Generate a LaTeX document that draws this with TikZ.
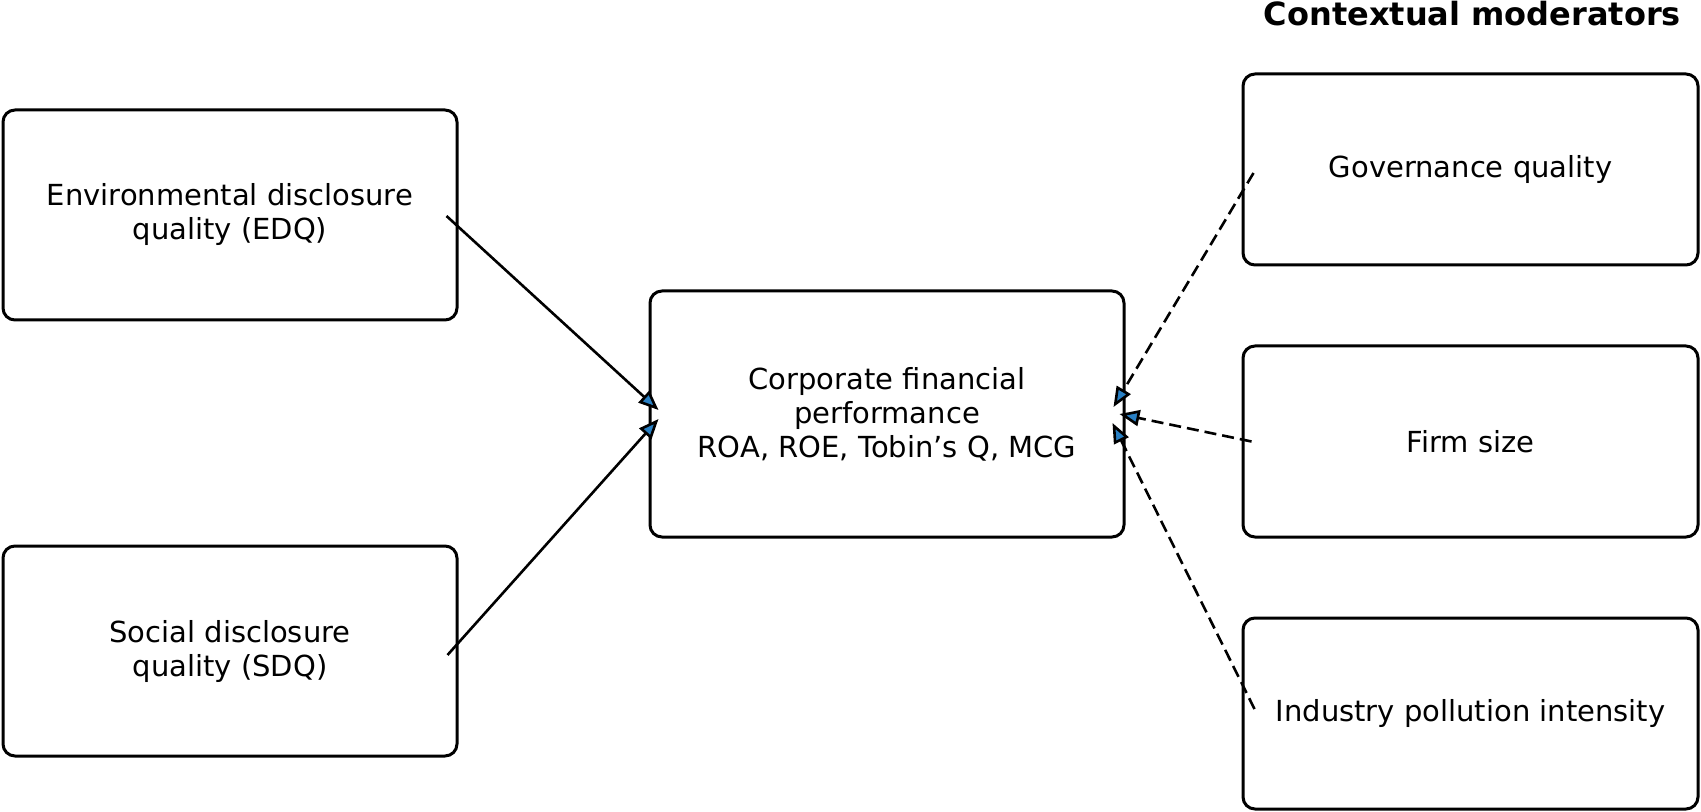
\documentclass[tikz,border=0pt]{standalone}
\usepackage{fontspec}
\setmainfont{DejaVu Sans}
\usetikzlibrary{arrows.meta,calc}
\definecolor{tipblue}{RGB}{41,128,196}
\tikzset{
  box/.style={draw, line width=1.5pt, rounded corners=6pt, align=center,
    font=\fontsize{14.5}{17}\selectfont},
  link/.style={line width=1.3pt, -{Triangle[length=10pt,width=8pt,fill=tipblue]}},
  modlink/.style={link, dash pattern=on 6pt off 3pt}
}

\begin{document}
\begin{tikzpicture}[x=0.5pt,y=-0.5pt]
  \useasboundingbox (0,0) rectangle (1701,812);
  % disclosure quality
  \node[box, minimum width=227pt, minimum height=105pt] (edq) at (230,215) {Environmental disclosure\\quality (EDQ)};
  \node[box, minimum width=227pt, minimum height=105pt] (sdq) at (230,651) {Social disclosure\\quality (SDQ)};
  % outcome
  \node[box, minimum width=237pt, minimum height=123pt] (cfp) at (887,414) {Corporate financial\\performance\\ROA, ROE, Tobin’s Q, MCG};
  % moderators
  \node[font=\fontsize{16}{19}\selectfont\bfseries, anchor=east] (title) at (1688,14) {Contextual moderators};
  \node[box, minimum width=227.5pt, minimum height=95.5pt] (gov) at (1470.5,169.5) {Governance quality};
  \node[box, minimum width=227.5pt, minimum height=95.5pt] (size) at (1470.5,441.5) {Firm size};
  \node[box, minimum width=227.5pt, minimum height=95.5pt] (ind) at (1470.5,713.5) {Industry pollution intensity};

  \draw[link] ($(edq.east)+(-12,1)$) -- ($(cfp.west)+(10,-4)$);
  \draw[link] ($(sdq.east)+(-11,4)$) -- ($(cfp.west)+(10,5)$);
  \draw[modlink] ($(gov.west)+(12,3.5)$) -- ($(cfp.east)+(-12,-7)$);
  \draw[modlink] ($(size.west)+(10,0)$) -- ($(cfp.east)+(-6,0)$);
  \draw[modlink] ($(ind.west)+(13,-4.5)$) -- ($(cfp.east)+(-13,9)$);
\end{tikzpicture}
\end{document}
